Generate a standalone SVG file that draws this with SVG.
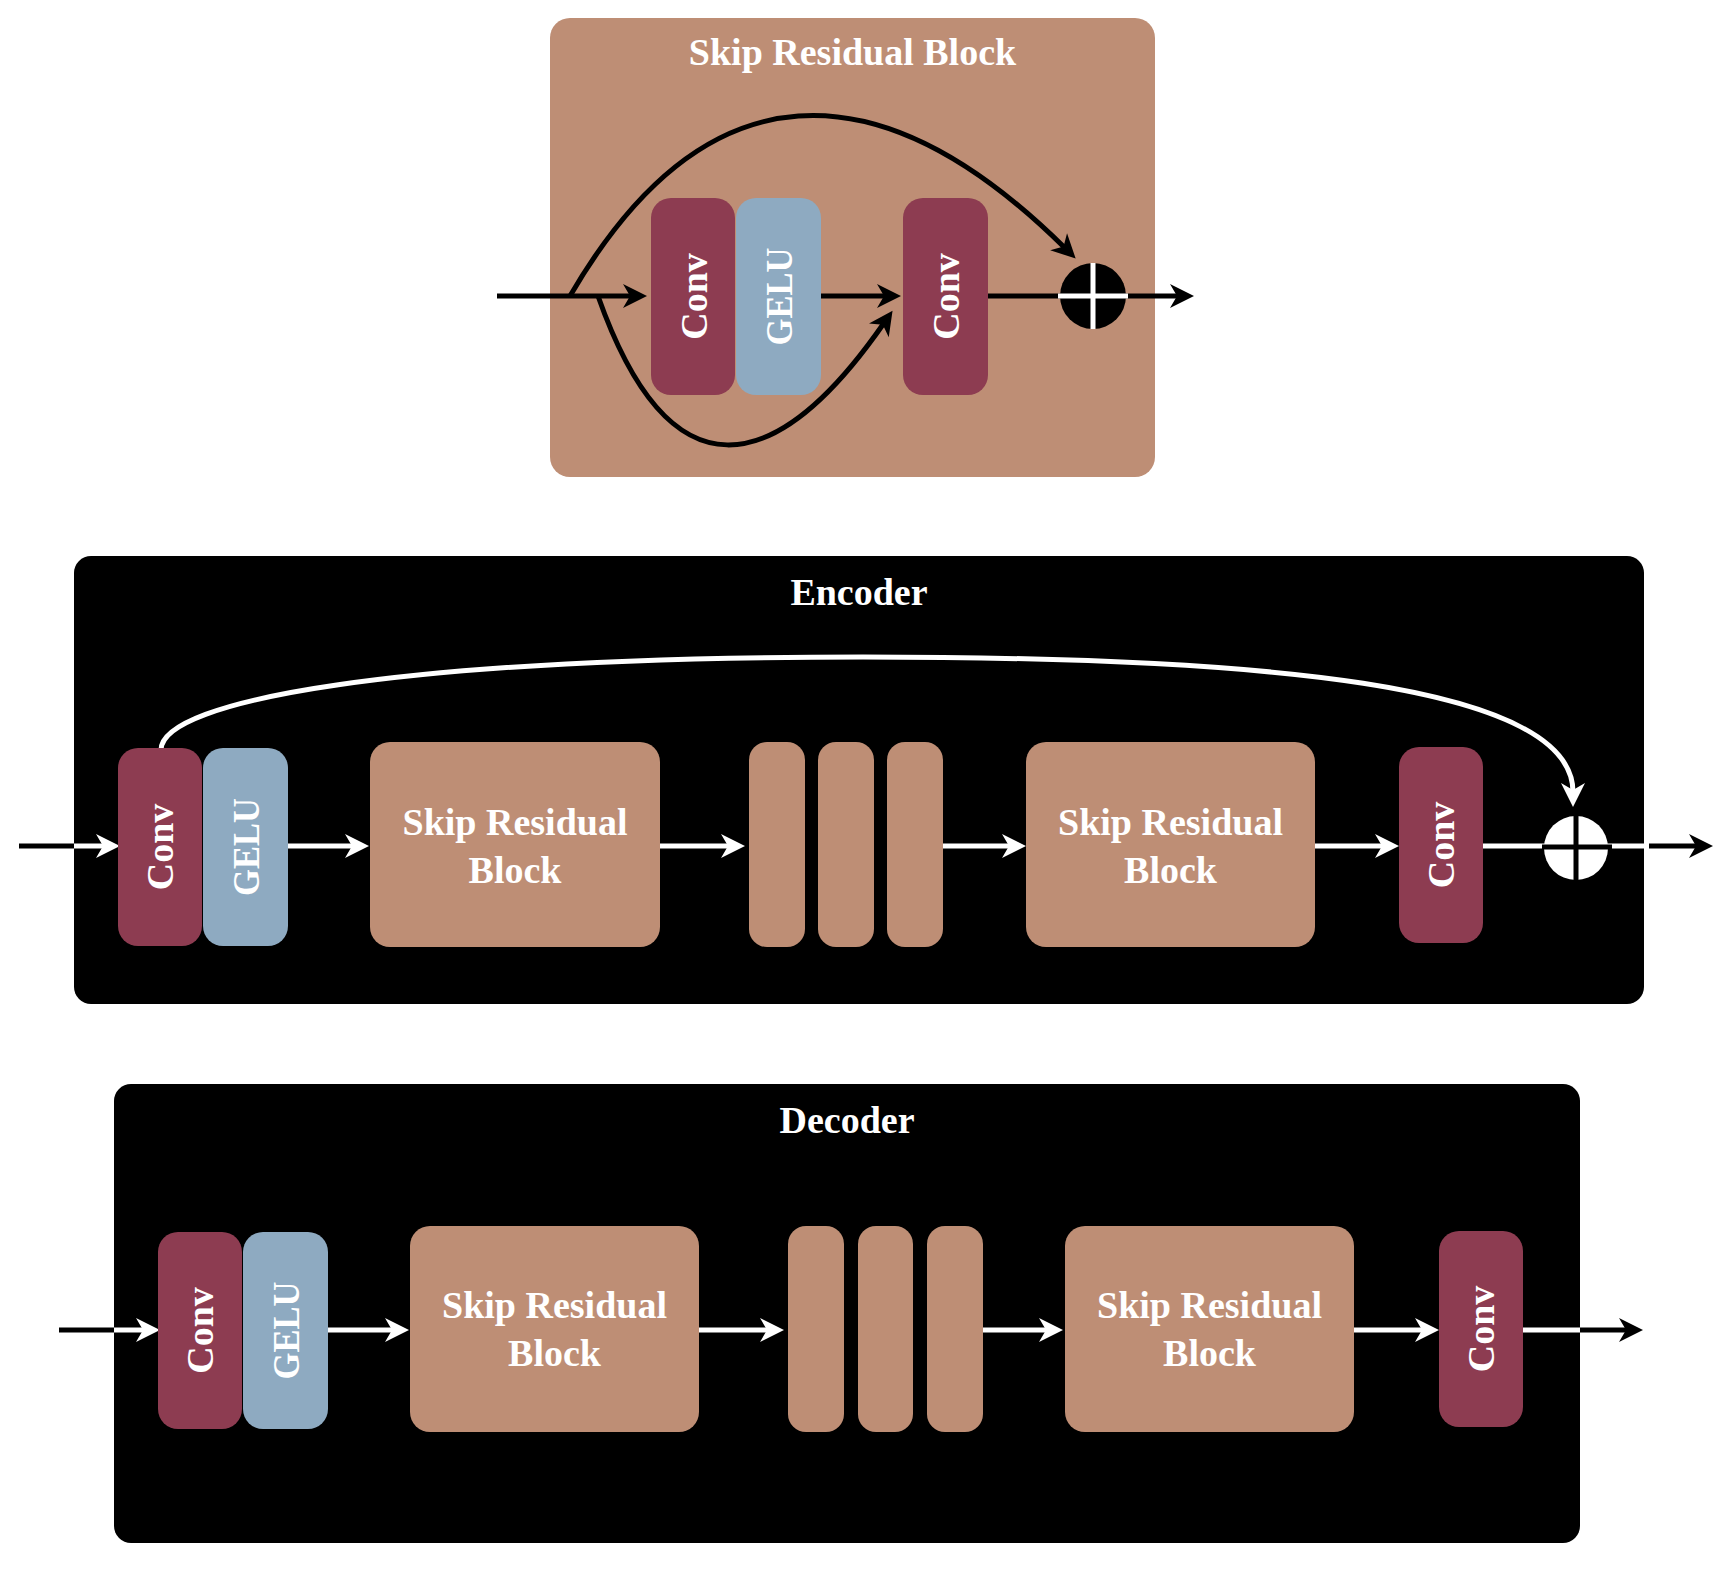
<svg xmlns="http://www.w3.org/2000/svg" width="1726" height="1570" viewBox="0 0 1726 1570">
<style>
.brown{fill:#BE8E75}
.conv{fill:#8D3C51}
.gelu{fill:#8EAAC1}
.dark{fill:#000000}
.t{font-family:"Liberation Serif","Times New Roman",serif;font-weight:bold;font-size:38px;fill:#ffffff;text-anchor:middle}
.lk{fill:none;stroke:#000000;stroke-width:5}
.lw{fill:none;stroke:#ffffff;stroke-width:5}
.ak{marker-end:url(#ahk)}
.aw{marker-end:url(#ahw)}
</style>
<defs>
<marker id="ahk" markerUnits="userSpaceOnUse" markerWidth="34" markerHeight="34" viewBox="-12 -17 34 34" refX="0" refY="0" orient="auto">
<path d="M15,0 L-9,-12 L-2,0 L-9,12 Z" fill="#000000"/>
</marker>
<marker id="ahw" markerUnits="userSpaceOnUse" markerWidth="34" markerHeight="34" viewBox="-12 -17 34 34" refX="0" refY="0" orient="auto">
<path d="M15,0 L-9,-12 L-2,0 L-9,12 Z" fill="#ffffff"/>
</marker>
</defs>
<rect width="1726" height="1570" fill="#ffffff"/>

<!-- containers -->
<g id="skip-residual-block">
<rect class="brown" x="550" y="18" width="605" height="459" rx="20"/>
<text class="t" x="852.5" y="65">Skip Residual Block</text>
</g>
<g id="encoder">
<rect class="dark" x="74" y="556" width="1570" height="448" rx="17"/>
<text class="t" x="859" y="605">Encoder</text>
</g>
<g id="decoder">
<rect class="dark" x="114" y="1084" width="1466" height="459" rx="17"/>
<text class="t" x="847" y="1133">Decoder</text>
</g>

<!-- connectors -->
<g id="connectors">
<!-- top block -->
<path class="lk ak" d="M497,296 H632"/>
<path class="lk ak" d="M821,296 H886"/>
<path class="lk ak" d="M988,296 H1179"/>
<path class="lk ak" d="M570,296 C705,64 879,64 1065,248"/>
<path class="lk ak" d="M598,296 C670,500 775,480 884,323"/>
<!-- encoder -->
<path class="lk" d="M19,846 H75"/>
<path class="lw aw" d="M74,846 H105"/>
<path class="lw aw" d="M287,846 H354"/>
<path class="lw aw" d="M660,846 H730"/>
<path class="lw aw" d="M943,846 H1011"/>
<path class="lw aw" d="M1315,846 H1384"/>
<path class="lw" d="M1483,846 H1644"/>
<path class="lk ak" d="M1649,846 H1698"/>
<path class="lw aw" d="M161,750 C161,700 400,657 863,657 C1250,657 1573,682 1573,792"/>
<!-- decoder -->
<path class="lk" d="M59,1330 H115"/>
<path class="lw aw" d="M114,1330 H145"/>
<path class="lw aw" d="M328,1330 H394"/>
<path class="lw aw" d="M699,1330 H769"/>
<path class="lw aw" d="M983,1330 H1048"/>
<path class="lw aw" d="M1354,1330 H1424"/>
<path class="lw" d="M1523,1330 H1580"/>
<path class="lk ak" d="M1580,1330 H1628"/>
</g>

<!-- nodes: top block -->
<g id="srb-conv1">
<rect class="conv" x="651" y="198" width="84" height="197" rx="20"/>
<text class="t" transform="translate(707,296.5) rotate(-90)">Conv</text>
</g>
<g id="srb-gelu">
<rect class="gelu" x="736" y="198" width="85" height="197" rx="20"/>
<text class="t" transform="translate(792,296.5) rotate(-90)" textLength="98" lengthAdjust="spacingAndGlyphs">GELU</text>
</g>
<g id="srb-conv2">
<rect class="conv" x="903" y="198" width="85" height="197" rx="20"/>
<text class="t" transform="translate(959,296.5) rotate(-90)">Conv</text>
</g>
<g id="srb-sum">
<circle cx="1093" cy="296" r="33" fill="#000000"/>
<path d="M1058,296 H1128 M1093,263 V329" stroke="#ffffff" stroke-width="5"/>
</g>

<!-- nodes: encoder -->
<g id="enc-conv1">
<rect class="conv" x="118" y="748" width="84" height="198" rx="20"/>
<text class="t" transform="translate(173,847) rotate(-90)">Conv</text>
</g>
<g id="enc-gelu">
<rect class="gelu" x="203" y="748" width="85" height="198" rx="20"/>
<text class="t" transform="translate(259,847) rotate(-90)" textLength="98" lengthAdjust="spacingAndGlyphs">GELU</text>
</g>
<g id="enc-srb1">
<rect class="brown" x="370" y="742" width="290" height="205" rx="20"/>
<text class="t" x="515" y="835">Skip Residual</text>
<text class="t" x="515" y="883">Block</text>
</g>
<g id="enc-rep1"><rect class="brown" x="749" y="742" width="56" height="205" rx="18"/></g>
<g id="enc-rep2"><rect class="brown" x="818" y="742" width="56" height="205" rx="18"/></g>
<g id="enc-rep3"><rect class="brown" x="887" y="742" width="56" height="205" rx="18"/></g>
<g id="enc-srb2">
<rect class="brown" x="1026" y="742" width="289" height="205" rx="20"/>
<text class="t" x="1170.5" y="835">Skip Residual</text>
<text class="t" x="1170.5" y="883">Block</text>
</g>
<g id="enc-conv2">
<rect class="conv" x="1399" y="747" width="84" height="196" rx="20"/>
<text class="t" transform="translate(1454,845) rotate(-90)">Conv</text>
</g>
<g id="enc-sum">
<circle cx="1576" cy="848" r="32" fill="#ffffff"/>
<path d="M1542,847 H1612 M1576,816 V880" stroke="#000000" stroke-width="5"/>
</g>

<!-- nodes: decoder -->
<g id="dec-conv1">
<rect class="conv" x="158" y="1232" width="84" height="197" rx="20"/>
<text class="t" transform="translate(213,1330.5) rotate(-90)">Conv</text>
</g>
<g id="dec-gelu">
<rect class="gelu" x="243" y="1232" width="85" height="197" rx="20"/>
<text class="t" transform="translate(299,1330.5) rotate(-90)" textLength="98" lengthAdjust="spacingAndGlyphs">GELU</text>
</g>
<g id="dec-srb1">
<rect class="brown" x="410" y="1226" width="289" height="206" rx="20"/>
<text class="t" x="554.5" y="1318">Skip Residual</text>
<text class="t" x="554.5" y="1366">Block</text>
</g>
<g id="dec-rep1"><rect class="brown" x="788" y="1226" width="56" height="206" rx="18"/></g>
<g id="dec-rep2"><rect class="brown" x="858" y="1226" width="55" height="206" rx="18"/></g>
<g id="dec-rep3"><rect class="brown" x="927" y="1226" width="56" height="206" rx="18"/></g>
<g id="dec-srb2">
<rect class="brown" x="1065" y="1226" width="289" height="206" rx="20"/>
<text class="t" x="1209.5" y="1318">Skip Residual</text>
<text class="t" x="1209.5" y="1366">Block</text>
</g>
<g id="dec-conv2">
<rect class="conv" x="1439" y="1231" width="84" height="196" rx="20"/>
<text class="t" transform="translate(1494,1329) rotate(-90)">Conv</text>
</g>
</svg>
